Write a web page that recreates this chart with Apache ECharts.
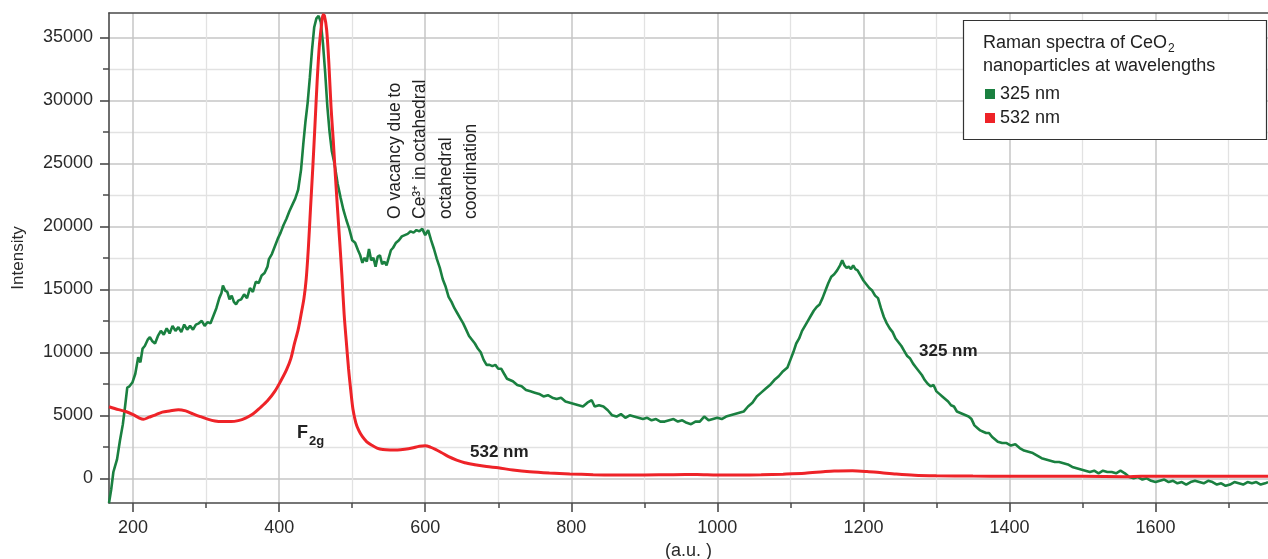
<!DOCTYPE html>
<html>
<head>
<meta charset="utf-8">
<script src="https://cdn.jsdelivr.net/npm/echarts@6/dist/echarts.min.js"></script>
<style>
html,body{margin:0;padding:0;background:#fff;}
#chart{width:1268px;height:559px;}
</style>
</head>
<body>
<div id="chart"></div>
<script>
// Raman shift values and intensities, 325 nm excitation (green)
const wn325 = [167,170,173,175,178,182,186,189,192,195,199,203,207,210,213,216,220,223,226,230,234,238,242,246,250,254,258,262,266,270,274,278,282,286,290,294,298,302,306,310,314,318,321,323,326,329,332,335,338,341,344,348,352,356,360,364,368,372,376,380,384,386,390,394,398,402,406,410,414,418,422,426,430,433,436,439,442,445,448,451,454,457,460,463,466,469,472,476,480,484,488,492,496,500,504,508,511,514,517,520,523,526,529,532,535,538,541,544,547,550,553,556,560,564,568,572,576,580,584,588,592,596,600,604,608,612,616,620,624,628,632,636,640,644,648,652,656,660,664,668,672,676,680,684,688,692,696,700,704,708,712,716,720,726,732,738,744,750,756,762,768,774,780,786,792,798,804,810,816,822,828,832,838,844,850,856,862,868,874,880,886,892,898,904,910,916,922,928,934,940,946,952,958,964,970,976,982,988,994,1000,1006,1012,1018,1024,1030,1036,1042,1048,1054,1060,1066,1072,1078,1084,1090,1096,1100,1104,1108,1112,1116,1120,1124,1128,1132,1136,1140,1144,1148,1152,1156,1160,1164,1168,1171,1174,1177,1180,1183,1186,1189,1192,1196,1200,1204,1208,1212,1216,1220,1224,1228,1232,1236,1240,1244,1248,1252,1256,1260,1264,1268,1272,1276,1280,1284,1288,1292,1296,1300,1304,1308,1312,1316,1320,1324,1328,1332,1336,1340,1344,1348,1352,1356,1360,1364,1368,1372,1376,1380,1384,1390,1396,1402,1408,1414,1420,1426,1432,1438,1444,1450,1456,1462,1468,1474,1480,1486,1492,1498,1504,1510,1516,1522,1528,1534,1540,1546,1552,1558,1564,1570,1576,1582,1588,1594,1600,1606,1612,1618,1624,1630,1636,1642,1648,1654,1660,1666,1672,1678,1684,1690,1696,1702,1708,1714,1720,1726,1732,1738,1744,1750,1754];
const int325 = [-1960,-900,500,900,1500,3000,4300,5700,7200,7300,7600,8300,9600,9200,10300,10500,11000,11200,10900,10700,11300,11700,11400,11900,11500,12100,11700,12000,11600,12200,11800,12100,11800,12200,12300,12500,12100,12400,12300,12900,13500,14300,14700,15300,14900,14800,14200,14500,14000,13800,14100,14200,14600,14300,15100,14800,15600,15500,16100,16300,16800,17400,17800,18400,19000,19500,20100,20600,21200,21700,22200,22900,24500,26500,28300,29800,31800,34000,35800,36500,36700,36200,34500,32200,29500,27500,26000,24900,23400,22300,21300,20500,19800,18900,18700,18100,17700,17100,17500,17200,18200,17300,17500,16800,17600,17700,17000,17200,16900,17500,18100,18300,18700,18900,19200,19300,19400,19600,19500,19700,19600,19800,19300,19700,18900,18200,17400,16700,15800,15200,14400,14000,13500,13100,12700,12300,11800,11300,11000,10700,10300,10000,9400,9000,9000,8900,9000,8700,8700,8300,7900,7800,7700,7400,7300,7000,6900,6800,6700,6500,6600,6400,6300,6400,6100,6000,5900,5800,5700,6000,6200,5700,5800,5700,5400,5000,4900,5100,4800,5000,4900,4800,4700,4800,4600,4700,4500,4500,4600,4700,4500,4600,4400,4300,4500,4500,4900,4600,4700,4800,4700,4900,5000,5100,5200,5300,5700,6000,6500,6800,7100,7400,7800,8100,8500,8800,9400,10000,10700,11100,11700,12100,12500,12900,13300,13600,13800,14300,14900,15500,16000,16200,16500,16900,17300,16900,16700,16800,16600,16900,16600,16500,16100,15700,15400,15100,14900,14500,14300,13500,12800,12300,11900,11600,11100,10800,10500,10100,9700,9500,9100,8800,8500,8200,7800,7500,7300,7400,6900,6700,6500,6300,6100,5800,5700,5300,5200,5100,5000,4900,4700,4200,4000,3800,3700,3600,3600,3300,3100,2900,2800,2800,2600,2700,2400,2200,2100,2000,1800,1600,1500,1400,1300,1300,1200,1100,900,800,700,600,500,600,400,600,500,500,400,600,400,100,0,100,-100,0,-200,-300,-200,-100,-300,-200,-400,-300,-500,-300,-200,-300,-400,-200,-300,-500,-400,-600,-500,-300,-400,-500,-300,-400,-300,-500,-400,-300];

// Raman shift values and intensities, 532 nm excitation (red)
const wn532 = [167,180,190,200,208,214,222,230,240,250,262,272,282,292,302,312,322,334,344,354,364,374,384,394,402,410,416,421,426,430,434,437,440,443,446,449,452,455,458,460,462,465,468,471,474,477,480,483,486,489,492,495,498,501,505,509,514,520,527,534,542,552,562,572,582,592,600,607,614,622,632,643,654,668,684,700,720,743,770,798,830,860,900,940,972,1000,1030,1060,1090,1120,1145,1160,1185,1205,1225,1245,1270,1300,1350,1400,1450,1500,1560,1580,1650,1754];
const int532 = [5680,5450,5300,5050,4800,4680,4850,5020,5250,5350,5450,5350,5120,4900,4700,4550,4500,4500,4580,4780,5100,5600,6150,6900,7700,8600,9500,10700,11800,13000,14300,15800,18300,21500,24600,28000,31500,34300,36000,36800,36700,35600,33000,29500,26900,24000,21300,18700,16000,13000,10800,8700,7000,5500,4400,3800,3300,2900,2620,2400,2280,2250,2250,2300,2400,2550,2580,2480,2300,2050,1720,1450,1240,1080,930,830,660,520,420,350,290,270,270,290,300,260,260,280,330,400,520,580,600,540,440,340,250,210,180,170,170,160,130,170,170,160];

// Axis ticks
const xMajorTicks = [200,400,600,800,1000,1200,1400,1600];
const xMinorTicks = [300,500,700,900,1100,1300,1500,1700];
const yMajorTicks = [0,5000,10000,15000,20000,25000,30000,35000];
const yMinorTicks = [2500,7500,12500,17500,22500,27500,32500];
const xRange = [167,1754];
const yRange = [-1960,36930];

const seriesNames = ['325 nm','532 nm'];
const colors = ['#1a8040','#ee2328'];

const FONT = '"Liberation Sans", Arial, Helvetica, sans-serif';
const axisColor = '#4a4a4a';
const plain = v => String(v);

const zip = (xs, ys) => xs.map((x, i) => [x, ys[i]]);

const chart = echarts.init(document.getElementById('chart'), null, {renderer:'canvas'});

function xAxisDef(kind){
  const base = {type:'value', min:xRange[0], max:xRange[1], gridIndex:0};
  if (kind === 'major') return Object.assign(base, {
    position:'bottom',
    name:'(a.u. )', nameLocation:'middle', nameGap:37,
    nameTextStyle:{fontFamily:FONT, fontSize:18, color:'#2a2a2a'},
    axisLine:{show:true, onZero:false, lineStyle:{color:axisColor, width:1.6}},
    axisTick:{show:true, length:9, customValues:xMajorTicks, lineStyle:{color:axisColor, width:1.6}},
    axisLabel:{show:true, customValues:xMajorTicks, formatter:plain, fontFamily:FONT, fontSize:18, color:'#2a2a2a', margin:16},
    splitLine:{show:true, lineStyle:{color:'#c6c6c6', width:1.5}}
  });
  if (kind === 'minor') return Object.assign(base, {
    position:'bottom',
    axisLine:{show:false, onZero:false},
    axisTick:{show:true, length:5, customValues:xMinorTicks, lineStyle:{color:axisColor, width:1.5}},
    axisLabel:{show:false, customValues:xMinorTicks},
    splitLine:{show:true, lineStyle:{color:'#e2e2e2', width:1.3}}
  });
  return Object.assign(base, {
    position:'top',
    axisLine:{show:true, onZero:false, lineStyle:{color:axisColor, width:1.6}},
    axisTick:{show:false}, axisLabel:{show:false}, splitLine:{show:false}
  });
}
function yAxisDef(kind){
  const base = {type:'value', min:yRange[0], max:yRange[1], gridIndex:0, position:'left'};
  if (kind === 'major') return Object.assign(base, {
    name:'Intensity', nameLocation:'middle', nameGap:82,
    nameTextStyle:{fontFamily:FONT, fontSize:17, color:'#2a2a2a'},
    axisLine:{show:true, onZero:false, lineStyle:{color:axisColor, width:1.6}},
    axisTick:{show:true, length:9, customValues:yMajorTicks, lineStyle:{color:axisColor, width:1.6}},
    axisLabel:{show:true, customValues:yMajorTicks, formatter:plain, fontFamily:FONT, fontSize:18, color:'#2a2a2a', margin:16},
    splitLine:{show:true, lineStyle:{color:'#c6c6c6', width:1.5}}
  });
  return Object.assign(base, {
    axisLine:{show:false, onZero:false},
    axisTick:{show:true, length:6, customValues:yMinorTicks, lineStyle:{color:axisColor, width:1.5}},
    axisLabel:{show:false, customValues:yMinorTicks},
    splitLine:{show:true, lineStyle:{color:'#e2e2e2', width:1.3}}
  });
}

function txt(x, y, text, font, extra){
  return Object.assign({
    type:'text', x:x, y:y, z:20,
    style:{text:text, font:font, fill:'#222', align:'left', verticalAlign:'middle', textAlign:'left', textVerticalAlign:'middle'}
  }, extra || {});
}
function vtxt(x, y, text){
  return {
    type:'text', x:x, y:y, rotation:Math.PI/2, z:20,
    style:{text:text, font:'17.5px ' + FONT, fill:'#222', align:'left', verticalAlign:'middle', textAlign:'left', textVerticalAlign:'middle'}
  };
}

const option = {
  animation:false,
  backgroundColor:'#ffffff',
  grid:{left:109, right:0, top:13, bottom:56, containLabel:false, outerBoundsMode:'none'},
  xAxis:[xAxisDef('major'), xAxisDef('minor'), xAxisDef('top')],
  yAxis:[yAxisDef('major'), yAxisDef('minor')],
  legend:{
    data:seriesNames, orient:'vertical', left:980, top:80, z:30,
    icon:'rect', itemWidth:10, itemHeight:10, itemGap:6,
    textStyle:{fontFamily:FONT, fontSize:18, color:'#222', lineHeight:18},
    selectedMode:false
  },
  series:[
    {name:seriesNames[0], type:'line', xAxisIndex:0, yAxisIndex:0, data:zip(wn325, int325),
     showSymbol:false, symbol:'none', lineStyle:{color:colors[0], width:2.6}, itemStyle:{color:colors[0]}, z:3},
    {name:seriesNames[1], type:'line', xAxisIndex:0, yAxisIndex:0, data:zip(wn532, int532),
     showSymbol:false, symbol:'none', smooth:0.3, lineStyle:{color:colors[1], width:3}, itemStyle:{color:colors[1]}, z:4}
  ],
  graphic:[
    {type:'rect', z:10, shape:{x:963.5, y:20.5, width:303, height:119}, style:{fill:'#fff', stroke:'#333', lineWidth:1.2}},
    txt(983, 43, 'Raman spectra of CeO', '18px ' + FONT),
    txt(1168, 49, '2', '12px ' + FONT),
    txt(983, 66, 'nanoparticles at wavelengths', '18px ' + FONT),
    vtxt(395, 219, 'O vacancy due to'),
    vtxt(420, 219, 'Ce\u00B3\u207A in octahedral'),
    vtxt(446, 219, 'octahedral'),
    vtxt(471, 219, 'coordination'),
    txt(297, 433, 'F', 'bold 18px ' + FONT),
    txt(309, 441, '2g', 'bold 13px ' + FONT),
    txt(470, 452, '532 nm', 'bold 17px ' + FONT),
    txt(919, 351, '325 nm', 'bold 17px ' + FONT)
  ]
};
chart.setOption(option);
</script>
</body>
</html>
